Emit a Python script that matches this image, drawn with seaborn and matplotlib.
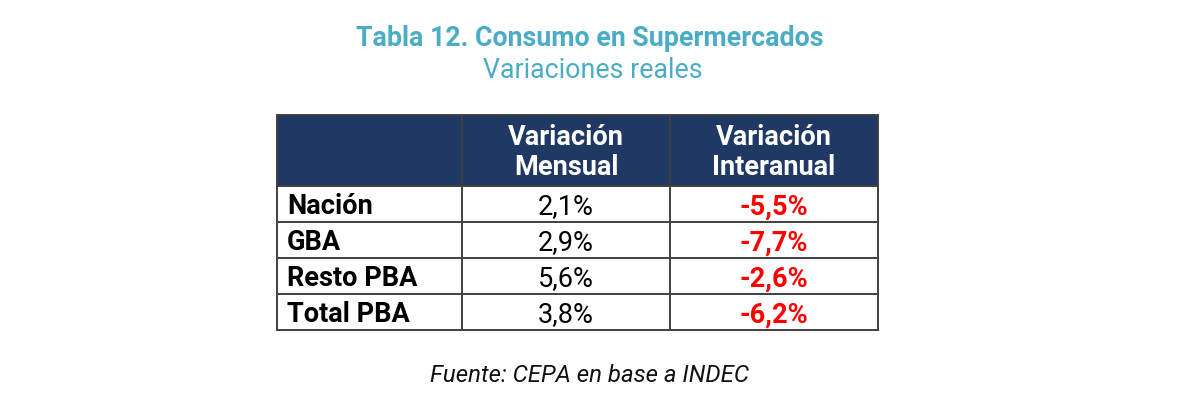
import matplotlib
matplotlib.use("Agg")
import matplotlib.pyplot as plt
from matplotlib.patches import Rectangle
import seaborn as sns

# table contents
regiones = ["Nación", "GBA", "Resto PBA", "Total PBA"]
mensual = [2.1, 2.9, 5.6, 3.8]
interanual = [-5.5, -7.7, -2.6, -6.2]
encabezados = ["", "Variación\nMensual", "Variación\nInteranual"]

titulo = "Tabla 12. Consumo en Supermercados"
subtitulo = "Variaciones reales"
fuente = "Fuente: CEPA en base a INDEC"

sns.set_theme(style="white")
plt.rcParams["font.family"] = ["Roboto", "DejaVu Sans"]

navy = "#203864"
teal = "#4BACC6"
red = "#FF0000"
grid = "#404040"


def fmt(v):
    return f"{v:.1f}%".replace(".", ",")


fig = plt.figure(figsize=(11.92, 4.05), dpi=100)
ax = fig.add_axes([0, 0, 1, 1])
ax.set_xlim(0, 1192)
ax.set_ylim(405, 0)
ax.axis("off")

# layout in pixels
col_x = [277, 462, 670, 878]
top, head_bottom, row_h = 115, 186, 36
bottom = head_bottom + row_h * len(regiones)

ax.add_patch(Rectangle((col_x[0], top), col_x[-1] - col_x[0], head_bottom - top,
                       facecolor=navy, edgecolor="none", zorder=1))

# grid lines
lw = 1.4
for y in [top, head_bottom] + [head_bottom + row_h * (i + 1) for i in range(len(regiones))]:
    ax.plot([col_x[0], col_x[-1]], [y, y], color=grid, lw=lw, zorder=3)
for x in col_x:
    ax.plot([x, x], [top, bottom], color=grid, lw=lw, zorder=3)

fs = 19.5

# header
for j, h in enumerate(encabezados[1:], start=1):
    ax.text((col_x[j] + col_x[j + 1]) / 2, (top + head_bottom) / 2 + 2, h,
            ha="center", va="center", color="white", fontsize=fs,
            fontweight="bold", linespacing=1.15, zorder=4)

# rows
for i, reg in enumerate(regiones):
    yc = head_bottom + row_h * i + row_h / 2 + 3
    ax.text(col_x[0] + 10, yc, reg, ha="left", va="center", fontsize=fs,
            fontweight="bold", color="black", zorder=4)
    ax.text((col_x[1] + col_x[2]) / 2, yc, fmt(mensual[i]), ha="center",
            va="center", fontsize=fs, color="black", zorder=4)
    ax.text((col_x[2] + col_x[3]) / 2, yc, fmt(interanual[i]), ha="center",
            va="center", fontsize=fs, fontweight="bold", color=red, zorder=4)

ax.text(590, 39, titulo, ha="center", va="center", fontsize=19.3,
        fontweight="bold", color=teal)
ax.text(593, 71, subtitulo, ha="center", va="center", fontsize=19.3, color=teal)
ax.text(590, 376, fuente, ha="center", va="center", fontsize=17.3,
        fontstyle="italic", color="#111111")

fig.savefig("out.png", dpi=100, facecolor="white")
